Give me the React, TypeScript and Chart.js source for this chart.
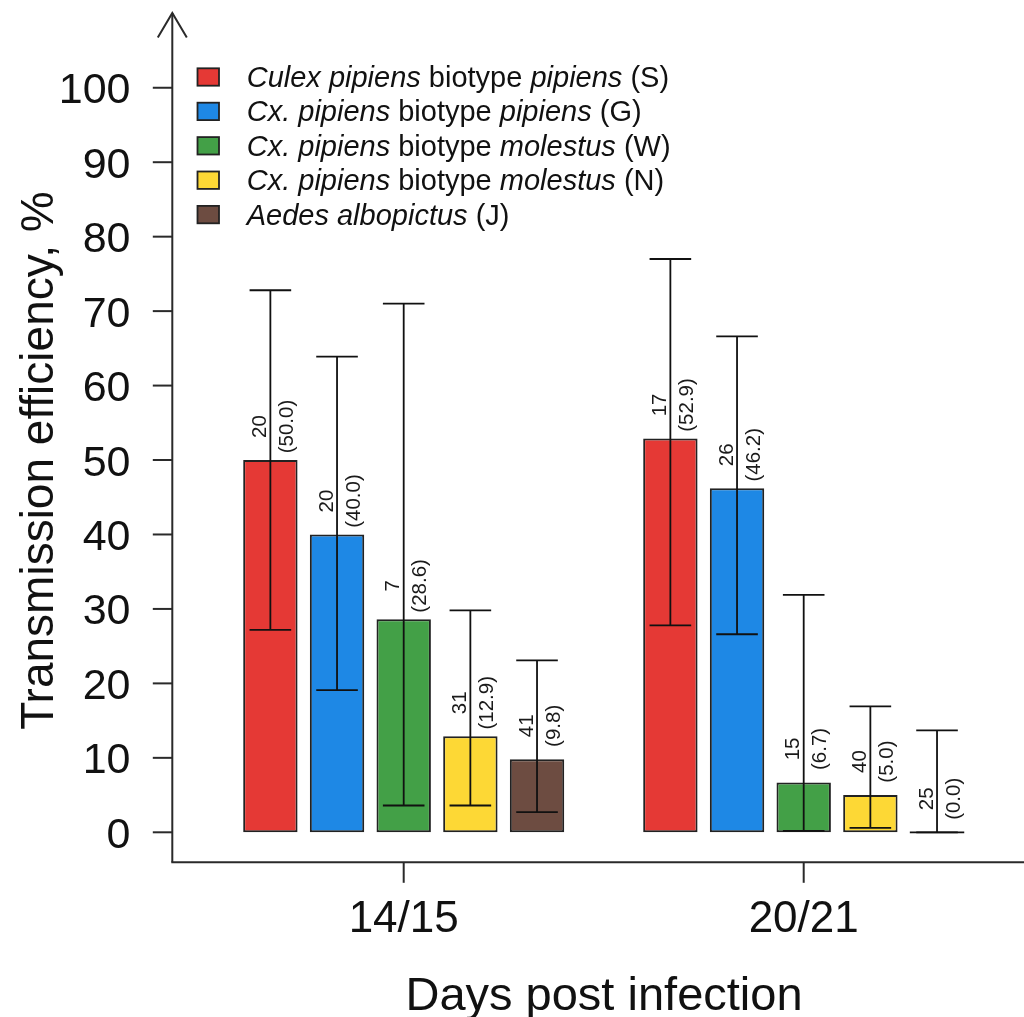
import React, { useEffect, useRef } from 'react';
import { Chart, registerables } from 'chart.js';

Chart.register(...registerables);

const FONT = '"Liberation Sans", Arial, Helvetica, sans-serif';

// ---- data ----
const categories = ['14/15', '20/21'];

const valuesS = [50.0, 52.9];
const valuesG = [40.0, 46.2];
const valuesW = [28.6, 6.7];
const valuesN = [12.9, 5.0];
const valuesJ = [9.8, 0.0];

const countsS = [20, 17];
const countsG = [20, 26];
const countsW = [7, 15];
const countsN = [31, 40];
const countsJ = [41, 25];

const lowerS = [27.2, 27.8];
const upperS = [72.8, 77.0];
const lowerG = [19.1, 26.6];
const upperG = [63.9, 66.6];
const lowerW = [3.6, 0.2];
const upperW = [71.0, 31.9];
const lowerN = [3.6, 0.6];
const upperN = [29.8, 16.9];
const lowerJ = [2.7, 0.0];
const upperJ = [23.1, 13.7];

const yTicks = [0, 10, 20, 30, 40, 50, 60, 70, 80, 90, 100];

const colorS = '#E53935';
const colorG = '#1E88E5';
const colorW = '#43A047';
const colorN = '#FDD835';
const colorJ = '#6D4C41';

// legend label segments: [text, italic]
const legendS: [string, boolean][] = [['Culex pipiens', true], [' biotype ', false], ['pipiens', true], [' (S)', false]];
const legendG: [string, boolean][] = [['Cx. pipiens', true], [' biotype ', false], ['pipiens', true], [' (G)', false]];
const legendW: [string, boolean][] = [['Cx. pipiens', true], [' biotype ', false], ['molestus', true], [' (W)', false]];
const legendN: [string, boolean][] = [['Cx. pipiens', true], [' biotype ', false], ['molestus', true], [' (N)', false]];
const legendJ: [string, boolean][] = [['Aedes albopictus', true], [' (J)', false]];

const yTitle = 'Transmission efficiency, %';
const xTitle = 'Days post infection';

const series = [
  { name: 'Culex pipiens biotype pipiens (S)', values: valuesS, counts: countsS, lower: lowerS, upper: upperS, color: colorS, legend: legendS },
  { name: 'Cx. pipiens biotype pipiens (G)', values: valuesG, counts: countsG, lower: lowerG, upper: upperG, color: colorG, legend: legendG },
  { name: 'Cx. pipiens biotype molestus (W)', values: valuesW, counts: countsW, lower: lowerW, upper: upperW, color: colorW, legend: legendW },
  { name: 'Cx. pipiens biotype molestus (N)', values: valuesN, counts: countsN, lower: lowerN, upper: upperN, color: colorN, legend: legendN },
  { name: 'Aedes albopictus (J)', values: valuesJ, counts: countsJ, lower: lowerJ, upper: upperJ, color: colorJ, legend: legendJ },
];

// ---- layout constants ----
const AXIS_X = 172.3; // y-axis line
const AXIS_Y = 862.3; // x-axis line
const LINE_COLOR = '#2a2a2a';

const overlayPlugin = {
  id: 'overlay',
  afterDatasetsDraw(chart: any) {
    const ctx: CanvasRenderingContext2D = chart.ctx;
    const yS = chart.scales.y;
    const y0 = yS.getPixelForValue(0);
    ctx.save();
    series.forEach((s, i) => {
      const meta = chart.getDatasetMeta(i);
      meta.data.forEach((bar: any, j: number) => {
        const cx = bar.x;
        const w = bar.width;
        const yl = yS.getPixelForValue(s.lower[j]);
        const yu = yS.getPixelForValue(s.upper[j]);
        const cap = 20.8;
        ctx.strokeStyle = '#111';
        ctx.lineWidth = 1.8;
        ctx.beginPath();
        ctx.moveTo(cx, yl);
        ctx.lineTo(cx, yu);
        ctx.moveTo(cx - cap, yu);
        ctx.lineTo(cx + cap, yu);
        ctx.moveTo(cx - cap, yl);
        ctx.lineTo(cx + cap, yl);
        ctx.stroke();
        if (s.values[j] === 0) {
          ctx.lineWidth = 1.8;
          ctx.beginPath();
          ctx.moveTo(cx - w / 2, y0);
          ctx.lineTo(cx + w / 2, y0);
          ctx.stroke();
        }
        // rotated labels
        const top = yS.getPixelForValue(s.values[j]);
        ctx.save();
        ctx.translate(cx, top - 33.5);
        ctx.rotate(-Math.PI / 2);
        ctx.fillStyle = '#1a1a1a';
        ctx.font = `20.5px ${FONT}`;
        ctx.textAlign = 'center';
        ctx.textBaseline = 'alphabetic';
        ctx.fillText(String(s.counts[j]), 0, -4.5);
        ctx.fillText('(' + s.values[j].toFixed(1) + ')', 0, 22.5);
        ctx.restore();
      });
    });
    ctx.restore();
  },
  afterDraw(chart: any) {
    const ctx: CanvasRenderingContext2D = chart.ctx;
    const xS = chart.scales.x;
    const yS = chart.scales.y;
    const area = chart.chartArea;
    ctx.save();
    ctx.strokeStyle = LINE_COLOR;
    ctx.lineWidth = 2;
    ctx.lineCap = 'butt';
    // y axis line with arrow
    ctx.beginPath();
    ctx.moveTo(AXIS_X, AXIS_Y);
    ctx.lineTo(AXIS_X, area.top);
    ctx.stroke();
    ctx.beginPath();
    ctx.moveTo(AXIS_X - 14.5, area.top + 24.5);
    ctx.lineTo(AXIS_X, area.top);
    ctx.lineTo(AXIS_X + 14.5, area.top + 24.5);
    ctx.stroke();
    // x axis line
    ctx.beginPath();
    ctx.moveTo(AXIS_X - 1, AXIS_Y);
    ctx.lineTo(chart.width, AXIS_Y);
    ctx.stroke();
    // y ticks + labels
    ctx.fillStyle = '#111';
    ctx.font = `43px ${FONT}`;
    ctx.textAlign = 'right';
    ctx.textBaseline = 'alphabetic';
    yTicks.forEach((t) => {
      const py = yS.getPixelForValue(t);
      ctx.beginPath();
      ctx.moveTo(AXIS_X - 19.5, py);
      ctx.lineTo(AXIS_X, py);
      ctx.stroke();
      ctx.fillText(String(t), 130.5, py + 15.5);
    });
    // x ticks + labels
    ctx.font = `44px ${FONT}`;
    ctx.textAlign = 'center';
    categories.forEach((c, i) => {
      const px = xS.getPixelForValue(i);
      ctx.beginPath();
      ctx.moveTo(px, AXIS_Y);
      ctx.lineTo(px, AXIS_Y + 20.5);
      ctx.stroke();
      ctx.fillText(c, px, 931.7);
    });
    // axis titles
    ctx.font = `47px ${FONT}`;
    ctx.textAlign = 'center';
    ctx.fillText(xTitle, 604, 1010);
    ctx.font = `46px ${FONT}`;
    ctx.save();
    ctx.translate(53, 460.5);
    ctx.rotate(-Math.PI / 2);
    ctx.fillText(yTitle, 0, 0);
    ctx.restore();
    // legend
    const rowY = [77, 111.4, 145.8, 180.2, 214.6];
    series.forEach((s, i) => {
      const cy = rowY[i];
      ctx.fillStyle = s.color;
      ctx.fillRect(197.5, cy - 8.7, 21.5, 17.4);
      ctx.strokeStyle = '#222';
      ctx.lineWidth = 1.8;
      ctx.strokeRect(197.5, cy - 8.7, 21.5, 17.4);
      let tx = 246.7;
      ctx.fillStyle = '#111';
      ctx.textAlign = 'left';
      s.legend.forEach(([text, italic]) => {
        ctx.font = `${italic ? 'italic ' : ''}29px ${FONT}`;
        ctx.fillText(text, tx, cy + 10);
        tx += ctx.measureText(text).width;
      });
    });
    ctx.restore();
  },
};

export default function App() {
  const ref = useRef<HTMLCanvasElement>(null);
  useEffect(() => {
    if (!ref.current) return;
    const chart = new Chart(ref.current, {
      type: 'bar',
      data: {
        labels: categories,
        datasets: series.map((s) => ({
          label: s.name,
          data: s.values,
          backgroundColor: s.color,
          borderColor: '#222',
          borderWidth: 2,
          borderSkipped: false,
          categoryPercentage: 0.8333,
          barPercentage: 0.816,
        })),
      },
      options: {
        animation: false,
        responsive: false,
        maintainAspectRatio: false,
        events: [],
        layout: { padding: { left: 203.7, right: 20.3, top: 13, bottom: 1017 - AXIS_Y } },
        plugins: { legend: { display: false }, tooltip: { enabled: false }, title: { display: false } },
        scales: {
          x: { type: 'category', display: false, offset: true },
          y: { type: 'linear', display: false, min: -4.03, max: 110.04 },
        },
      },
      plugins: [overlayPlugin],
    } as any);
    return () => chart.destroy();
  }, []);
  return (
    <div style={{ position: 'fixed', left: 0, top: 0, width: 1024, height: 1017, background: '#fff' }}>
      <canvas ref={ref} width={1024} height={1017} style={{ display: 'block', width: 1024, height: 1017 }} />
    </div>
  );
}
